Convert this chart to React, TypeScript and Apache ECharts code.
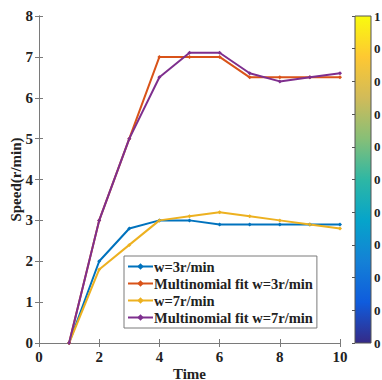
import React, { useEffect, useRef } from "react";
import * as echarts from "echarts";

const times = [1, 2, 3, 4, 5, 6, 7, 8, 9, 10];
const w3 = [0, 2, 2.8, 3, 3, 2.9, 2.9, 2.9, 2.9, 2.9];
const fit3 = [0, 3, 5, 7, 7, 7, 6.5, 6.5, 6.5, 6.5];
const w7 = [0, 1.8, 2.4, 3, 3.1, 3.2, 3.1, 3.0, 2.9, 2.8];
const fit7 = [0, 3, 5, 6.5, 7.1, 7.1, 6.6, 6.4, 6.5, 6.6];
const seriesNames = ["w=3r/min", "Multinomial fit w=3r/min", "w=7r/min", "Multinomial fit w=7r/min"];
const seriesColors = ["#0072BD", "#D95319", "#EDB120", "#7E2F8E"];
const colorbarRange = [[0, 0, 1, 1]];
const parula = ["#352a87", "#0f5cdd", "#1481d6", "#06a4ca", "#2eb7a4", "#87bf77", "#d1bb59", "#fec832", "#f9fb0e"];

const font = "'Liberation Serif', 'Times New Roman', serif";

export default function App() {
  const ref = useRef<HTMLDivElement>(null);
  useEffect(() => {
    const chart = echarts.init(ref.current!, null, { renderer: "svg" });
    const data = [w3, fit3, w7, fit7];
    const axisLine = { show: true, lineStyle: { color: "#7a7a7a", width: 1 } };
    const tick = { show: true, inside: true, length: 4, lineStyle: { color: "#7a7a7a" } };
    const lbl = { fontFamily: font, fontWeight: "bold", fontSize: 15, color: "#222" };
    chart.setOption({
      animation: false,
      backgroundColor: "#fff",
      grid: [
        { left: 39, right: 42, top: 16, bottom: 37, containLabel: false, outerBoundsMode: "none" },
        { left: 355, right: 11, top: 16, bottom: 37, containLabel: false, outerBoundsMode: "none" },
      ],
      xAxis: [
        {
          type: "value", gridIndex: 0, min: 0, max: 10, interval: 2,
          name: "Time", nameLocation: "middle", nameGap: 23, nameMoveOverlap: false,
          nameTextStyle: { ...lbl, fontSize: 15 },
          axisLine, axisTick: tick, splitLine: { show: false },
          axisLabel: { ...lbl, margin: 6 },
        },
        {
          type: "value", gridIndex: 0, min: 0, max: 10, interval: 2, position: "top",
          axisLine, axisTick: tick, splitLine: { show: false }, axisLabel: { show: false },
        },
        {
          type: "value", gridIndex: 1, min: 0, max: 1, show: false,
        },
      ],
      yAxis: [
        {
          type: "value", gridIndex: 0, min: 0, max: 8, interval: 1,
          name: "Speed(r/min)", nameLocation: "middle", nameGap: 16, nameMoveOverlap: false,
          nameTextStyle: { ...lbl, fontSize: 15 },
          axisLine, axisTick: tick, splitLine: { show: false },
          axisLabel: { ...lbl, margin: 6 },
        },
        {
          type: "value", gridIndex: 0, min: 0, max: 8, interval: 1, position: "right",
          axisLine, axisTick: tick, splitLine: { show: false }, axisLabel: { show: false },
        },
        {
          type: "value", gridIndex: 1, min: 0, max: 1, interval: 0.1, position: "right",
          axisLine: { show: false },
          axisTick: { show: true, inside: true, length: 3, lineStyle: { color: "#555" } },
          splitLine: { show: false },
          axisLabel: {
            ...lbl, fontSize: 13, margin: 3, width: 8, overflow: "truncate", ellipsis: "",
            formatter: (v: number) => (v === 1 ? "1" : v.toFixed(1)),
          },
        },
      ],
      legend: {
        orient: "vertical",
        left: 124,
        top: 256,
        itemWidth: 25,
        itemHeight: 8,
        itemGap: 2,
        padding: [3, 4, 3, 3],
        backgroundColor: "#fff",
        borderColor: "#7a7a7a",
        borderWidth: 1,
        borderRadius: 0,
        textStyle: { ...lbl, fontSize: 14.5, padding: [0, 0, 0, -4] },
        data: seriesNames,
      },
      series: [
        ...data.map((d, i) => ({
          type: "line",
          name: seriesNames[i],
          xAxisIndex: 0,
          yAxisIndex: 0,
          data: times.map((t, j) => [t, d[j]]),
          color: seriesColors[i],
          lineStyle: { width: 2 },
          symbol: "diamond",
          symbolSize: 4,
          z: i === 3 ? 5 : 3,
        })),
        {
          type: "custom",
          xAxisIndex: 2,
          yAxisIndex: 2,
          silent: true,
          data: colorbarRange,
          renderItem: (params: any, api: any) => {
            const p0 = api.coord([api.value(0), api.value(1)]);
            const p1 = api.coord([api.value(2), api.value(3)]);
            return {
              type: "rect",
              shape: { x: p0[0], y: p1[1], width: p1[0] - p0[0], height: p0[1] - p1[1] },
              style: {
                stroke: "#555",
                lineWidth: 1,
                fill: new echarts.graphic.LinearGradient(0, 1, 0, 0,
                  parula.map((c, k) => ({ offset: k / (parula.length - 1), color: c }))),
              },
              z2: -1,
            };
          },
        },
      ],
    });
    return () => chart.dispose();
  }, []);
  return <div ref={ref} style={{ position: "fixed", left: 0, top: 0, width: 382, height: 380 }} />;
}
